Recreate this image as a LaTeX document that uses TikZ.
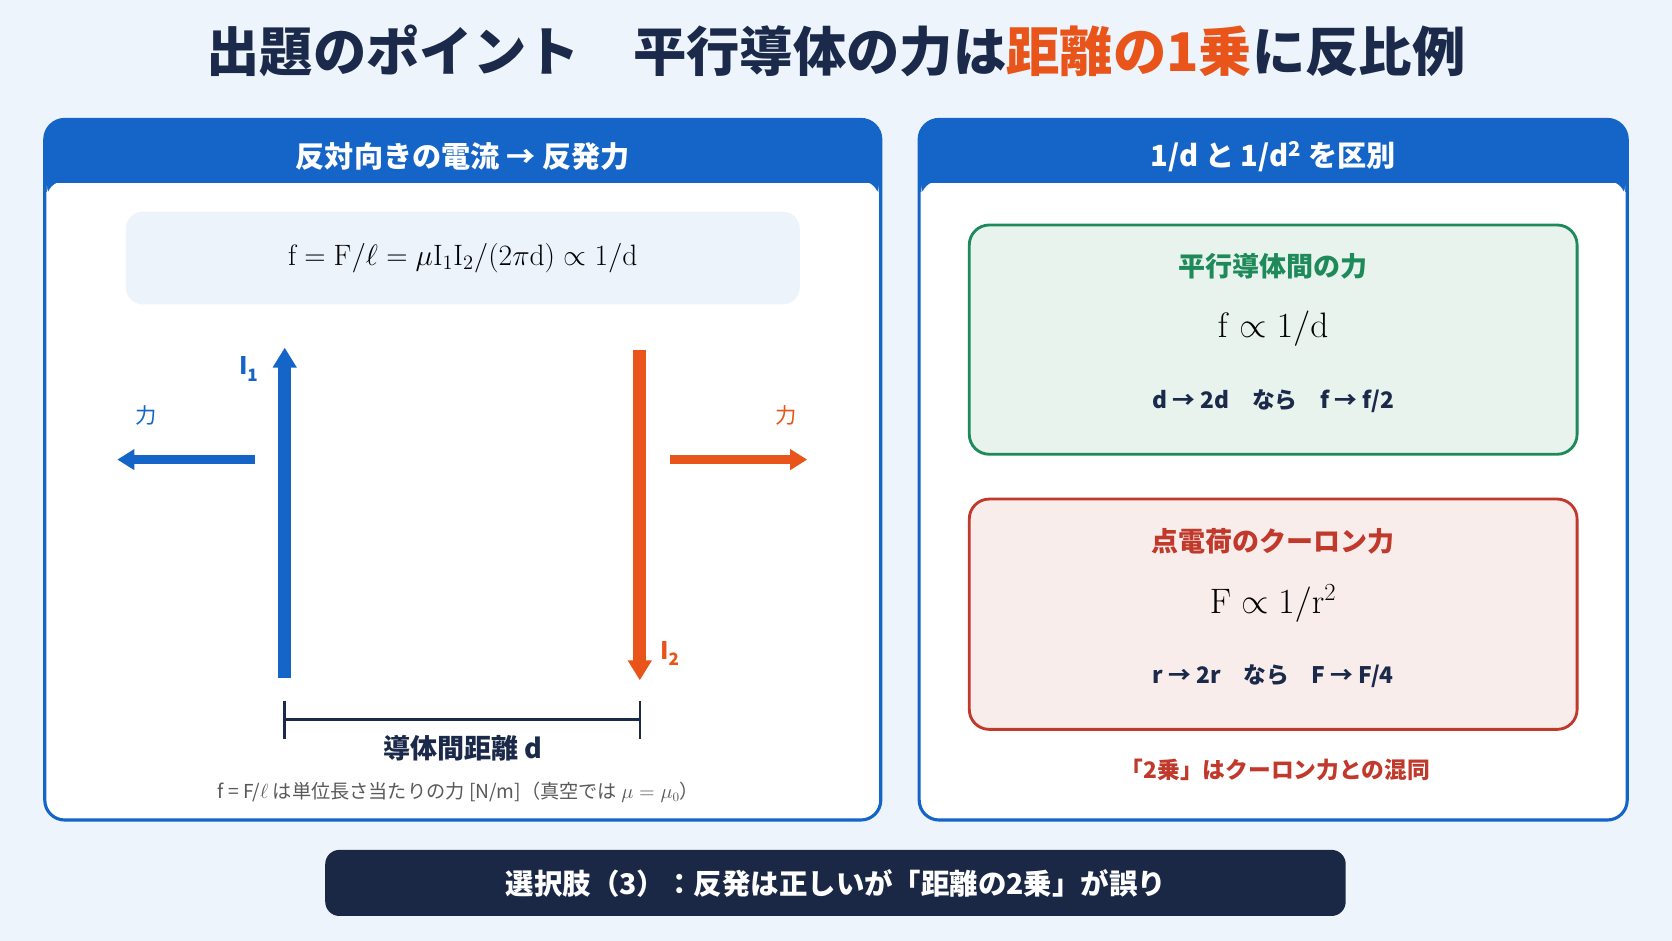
\documentclass[tikz,border=0pt]{standalone}
\usepackage[no-math]{fontspec}
\setmainfont{Noto Sans CJK JP}
\usetikzlibrary{arrows.meta}
\definecolor{navy}{HTML}{1B2A4A}
\definecolor{org}{HTML}{E8541A}
\definecolor{blu}{HTML}{1565C8}
\definecolor{grn}{HTML}{1E8A5A}
\definecolor{rd}{HTML}{C0392B}
\definecolor{bg}{HTML}{EEF4FB}
\newcommand{\mth}[1]{{$\mathrm{#1}$}}
\begin{document}
\begin{tikzpicture}[x=0.75pt,y=-0.75pt,
  panel/.style={draw=blu,line width=2.2pt,fill=white,rounded corners=14pt},
  hdr/.style={text=white,font=\fontsize{20.5}{22}\selectfont\bfseries},
  jp/.style={font=\fontsize{#1}{#1}\selectfont\bfseries},
  mathtxt/.style={font=\fontsize{#1}{#1}\selectfont}]
\fill[bg] (0,0) rectangle (1568,882);
\useasboundingbox (0,0) rectangle (1568,882);
\node[jp=37.5,text=navy] (title) at (784,48) {出題のポイント\quad 平行導体の力は\textcolor{org}{距離の1乗}に反比例};
% left panel
\draw[panel] (42,112) rectangle (826,769);
\fill[blu,rounded corners=14pt] (42,112) rectangle (826,180);
\fill[blu] (43,150) rectangle (825,180);
\fill[white,rounded corners=12pt] (44,170) rectangle (824,190);
\fill[blu] (43,168) rectangle (825,172);
\node[hdr] (lh) at (434,147) {反対向きの電流 → 反発力};
\node[fill=blu!8,rounded corners=12pt,minimum width=632*0.75pt,minimum height=87*0.75pt] (fb) at (434,242) {};
\node[mathtxt=22] (fm) at (434,242) {\mth{f=F/\ell=\mu I_1 I_2/(2\pi d)\propto 1/d}};
\coordinate (b1) at (267,636); \coordinate (b2) at (267,326);
\coordinate (o1) at (600,328); \coordinate (o2) at (600,638);
\draw[blu,line width=9pt,-{Triangle[length=14pt,width=16pt]}] (b1) -- (b2);
\draw[org,line width=9pt,-{Triangle[length=14pt,width=16pt]}] (o1) -- (o2);
\node[jp=17,text=blu] (i1) at (233,346) {I\raisebox{-0.5ex}{\fontsize{12}{12}\selectfont 1}};
\node[jp=17,text=org] (i2) at (628,613) {I\raisebox{-0.5ex}{\fontsize{12}{12}\selectfont 2}};
\coordinate (fl1) at (239,431); \coordinate (fl2) at (110,431);
\coordinate (fr1) at (628,431); \coordinate (fr2) at (757,431);
\draw[blu,line width=6pt,-{Triangle[length=12pt,width=14pt]}] (fl1) -- (fl2);
\draw[org,line width=6pt,-{Triangle[length=12pt,width=14pt]}] (fr1) -- (fr2);
\node[font=\fontsize{15}{15}\selectfont,text=blu] (fbl) at (137,390) {力};
\node[font=\fontsize{15}{15}\selectfont,text=org] (fol) at (737,390) {力};
\coordinate (d1) at (267,675); \coordinate (d2) at (600,675);
\draw[navy,line width=1.8pt] (d1) -- (d2);
\draw[navy,line width=1.8pt] (267,657) -- (267,693) (600,657) -- (600,693);
\node[jp=19,text=navy] (dl) at (434,702) {導体間距離 d};
\node[font=\fontsize{13.5}{14}\selectfont,text=black!65] (fn) at (430,743) {f = F/\mth{\ell}\ は単位長さ当たりの力 [N/m]（真空では \mth{\mu=\mu_0}）};
% right panel
\draw[panel] (862,112) rectangle (1526,769);
\fill[blu,rounded corners=14pt] (862,112) rectangle (1526,180);
\fill[blu] (863,150) rectangle (1525,180);
\fill[white,rounded corners=12pt] (864,170) rectangle (1524,190);
\fill[blu] (863,168) rectangle (1525,172);
\node[hdr] (rh) at (1194,147) {1/d と 1/d\textsuperscript{2} を区別};
\draw[grn,line width=2pt,fill=grn!10,rounded corners=14pt] (909,211) rectangle (1479,426);
\node[jp=19,text=grn] (gt) at (1194,250) {平行導体間の力};
\node[mathtxt=24] (gf) at (1194,308) {\mth{f\propto 1/d}};
\node[jp=16,text=navy] (gs) at (1194,376) {d → 2d\quad なら\quad f → f/2};
\draw[rd,line width=2pt,fill=rd!9,rounded corners=14pt] (909,468) rectangle (1479,684);
\node[jp=19,text=rd] (rt) at (1194,508) {点電荷のクーロン力};
\node[mathtxt=24] (rf) at (1194,566) {\mth{F\propto 1/r^2}};
\node[jp=16,text=navy] (rs) at (1194,634) {r → 2r\quad なら\quad F → F/4};
\node[jp=16,text=rd] (rn) at (1196,722) {「2乗」はクーロン力との混同};
% bottom bar
\fill[navy!95!black,rounded corners=10pt] (305,797) rectangle (1262,859);
\node[jp=20,text=white] (bb) at (784,829) {選択肢（3）：反発は正しいが「距離の2乗」が誤り};
\end{tikzpicture}
\end{document}
